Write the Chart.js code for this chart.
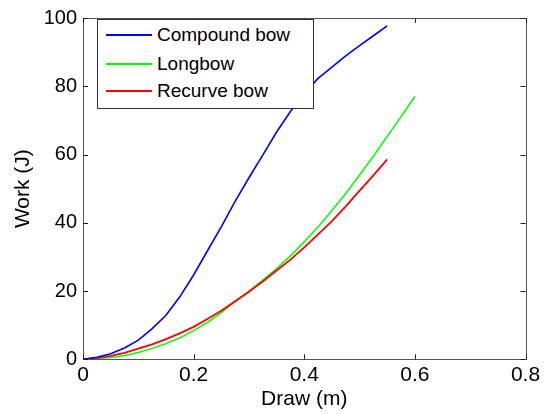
<!DOCTYPE html>
<html>
<head>
<meta charset="utf-8">
<script src="https://cdn.jsdelivr.net/npm/chart.js@4.4.1/dist/chart.umd.min.js"></script>
<style>
  body { margin: 0; background: #fff; }
  #wrap { position: relative; width: 549px; height: 414px; }
  #legend {
    position: absolute; left: 97px; top: 19px; width: 215px; height: 88px;
    border: 1px solid #333; background: #fff;
    font-family: "Liberation Sans", Arial, sans-serif; font-size: 19px; color: #000;
  }
  .row { position: absolute; left: 0; height: 22px; line-height: 22px; white-space: nowrap; }
  .row span.sw { position: absolute; left: 8px; top: 10px; width: 46px; height: 2px; }
  .row span.tx { position: absolute; left: 59px; top: 0; }
</style>
</head>
<body>
<div id="wrap">
  <canvas id="myChart" width="549" height="414"></canvas>
  <div id="legend"></div>
</div>
<script>
// draw positions (m), shared by the three bows
var drawSteps = [0, 0.025, 0.05, 0.075, 0.1, 0.125, 0.15, 0.175, 0.2, 0.225, 0.25, 0.275,
                 0.3, 0.325, 0.35, 0.375, 0.4, 0.425, 0.45, 0.475, 0.5, 0.525, 0.55, 0.575, 0.6];

// work (J)
var compoundWork = [0, 0.6, 1.6, 3.3, 5.6, 9.0, 12.9, 18.3, 24.7, 31.8, 38.8, 46.3,
                    53.2, 59.8, 66.6, 72.6, 77.8, 82.3, 85.6, 88.9, 91.9, 94.8, 97.7];
var longbowWork = [0, 0.2, 0.5, 1.1, 2.0, 3.2, 4.6, 6.3, 8.4, 10.8, 13.7, 16.9,
                   20.0, 23.2, 26.6, 30.3, 34.4, 38.8, 43.6, 48.6, 54.0, 59.5, 65.3, 71.1, 77.0];
var recurveWork = [0, 0.4, 1.0, 1.9, 3.1, 4.4, 5.9, 7.6, 9.5, 11.8, 14.2, 17.0,
                   19.8, 22.8, 26.0, 29.2, 32.8, 36.6, 40.5, 44.8, 49.4, 53.9, 58.6];

var seriesNames = ["Compound bow", "Longbow", "Recurve bow"];
var seriesColors = ["#0000ff", "#00ff00", "#ff0000"];

var xTicks = [0, 0.2, 0.4, 0.6, 0.8];
var xTickLabels = ["0", "0.2", "0.4", "0.6", "0.8"];
var yTicks = [0, 20, 40, 60, 80, 100];
var yTickLabels = ["0", "20", "40", "60", "80", "100"];

function toPoints(work) {
  return work.map(function(w, i) { return { x: drawSteps[i], y: w }; });
}

var fontFamily = '"Liberation Sans", Arial, sans-serif';

// matlab style box with inward ticks on all four sides
var boxPlugin = {
  id: 'box',
  afterDraw: function(chart) {
    var ctx = chart.ctx, a = chart.chartArea;
    var xs = chart.scales.x, ys = chart.scales.y;
    var tl = 5;
    ctx.save();
    ctx.strokeStyle = '#555';
    ctx.lineWidth = 1;
    ctx.strokeRect(Math.round(a.left) + 0.5, Math.round(a.top) + 0.5,
                   Math.round(a.right - a.left), Math.round(a.bottom - a.top));
    ctx.strokeStyle = '#222';
    ctx.beginPath();
    xTicks.forEach(function(v) {
      var px = Math.round(xs.getPixelForValue(v)) + 0.5;
      ctx.moveTo(px, a.bottom); ctx.lineTo(px, a.bottom - tl);
      ctx.moveTo(px, a.top); ctx.lineTo(px, a.top + tl);
    });
    yTicks.forEach(function(v) {
      var py = Math.round(ys.getPixelForValue(v)) + 0.5;
      ctx.moveTo(a.left, py); ctx.lineTo(a.left + tl, py);
      ctx.moveTo(a.right, py); ctx.lineTo(a.right - tl, py);
    });
    ctx.stroke();
    ctx.restore();
  }
};

var data = {
  datasets: [{
    label: seriesNames[0],
    data: toPoints(compoundWork),
    borderColor: seriesColors[0],
    borderWidth: 1.6,
    order: 0
  }, {
    label: seriesNames[1],
    data: toPoints(longbowWork),
    borderColor: seriesColors[1],
    borderWidth: 1.5,
    order: 2
  }, {
    label: seriesNames[2],
    data: toPoints(recurveWork),
    borderColor: seriesColors[2],
    borderWidth: 1.8,
    order: 1
  }]
};

var options = {
  responsive: false,
  animation: false,
  events: [],
  layout: { padding: { top: 17, right: 23.5, left: 0, bottom: 0 } },
  elements: { point: { radius: 0 }, line: { tension: 0, fill: false } },
  plugins: { legend: { display: false }, tooltip: { enabled: false } },
  scales: {
    x: {
      type: 'linear', min: 0, max: 0.8,
      afterBuildTicks: function(s) { s.ticks = xTicks.map(function(v) { return { value: v }; }); },
      afterFit: function(s) { s.height = 54.7; },
      grid: { display: false, drawTicks: false },
      border: { display: false },
      ticks: {
        color: '#000', padding: 3, maxRotation: 0,
        font: { family: fontFamily, size: 21 },
        callback: function(v, i) { return xTickLabels[i]; }
      },
      title: {
        display: true, text: 'Draw (m)', color: '#000',
        font: { family: fontFamily, size: 21 },
        padding: { top: 0, bottom: 2 }
      }
    },
    y: {
      type: 'linear', min: 0, max: 100,
      afterBuildTicks: function(s) { s.ticks = yTicks.map(function(v) { return { value: v }; }); },
      afterFit: function(s) { s.width = 83; },
      grid: { display: false, drawTicks: false },
      border: { display: false },
      ticks: {
        color: '#000', padding: 6,
        font: { family: fontFamily, size: 20 },
        callback: function(v, i) { return yTickLabels[i]; }
      },
      title: {
        display: true, text: 'Work (J)', color: '#000',
        font: { family: fontFamily, size: 21 },
        padding: { top: 11, bottom: 0 }
      }
    }
  }
};

var ctx = document.getElementById("myChart").getContext("2d");
var myChart = new Chart(ctx, { type: 'line', data: data, options: options, plugins: [boxPlugin] });

// legend inside the plot, like the original figure
var legendEl = document.getElementById('legend');
var rowCenters = [15, 43.5, 71];
seriesNames.forEach(function(name, i) {
  var row = document.createElement('div');
  row.className = 'row';
  row.style.top = (rowCenters[i] - 11) + 'px';
  row.innerHTML = '<span class="sw" style="background:' + seriesColors[i] + '"></span>' +
                  '<span class="tx">' + name + '</span>';
  legendEl.appendChild(row);
});
</script>
</body>
</html>
